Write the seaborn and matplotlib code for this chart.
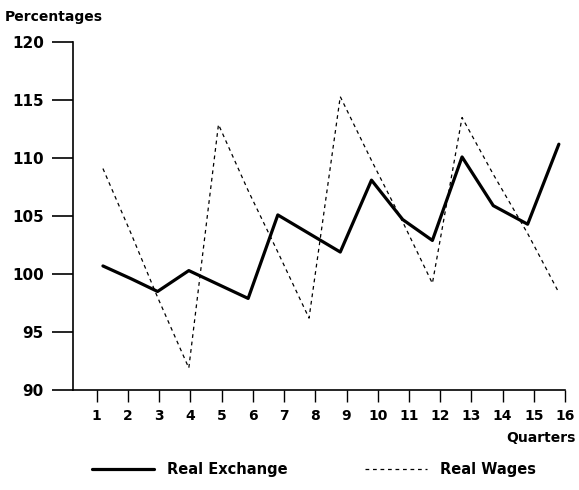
import pandas as pd
import matplotlib.pyplot as plt
import seaborn as sns

# quarter positions (points sit a little left of the ticks)
quarter_pos = [1.2, 2.1, 2.95, 3.95, 4.9, 5.85, 6.8, 7.8,
               8.8, 9.8, 10.8, 11.75, 12.7, 13.7, 14.8, 15.8]
real_exchange = [100.7, 99.6, 98.5, 100.3, 99.1, 97.9, 105.1, 103.5,
                 101.9, 108.1, 104.7, 102.9, 110.1, 105.9, 104.3, 111.2]
real_wages = [109.1, 103.5, 98.0, 91.9, 112.9, 107.2, 101.9, 96.2,
              115.3, 109.8, 104.5, 99.2, 113.5, 108.6, 103.5, 98.4]
quarter_ticks = list(range(1, 17))
pct_ticks = [90, 95, 100, 105, 110, 115, 120]

sns.set_style("ticks")
plt.rcParams['font.family'] = ['DejaVu Sans']
plt.rcParams['font.weight'] = 'bold'
plt.rcParams['text.color'] = 'black'
plt.rcParams['xtick.color'] = 'black'
plt.rcParams['ytick.color'] = 'black'
plt.rcParams['axes.edgecolor'] = 'black'

df = pd.DataFrame({"q": quarter_pos, "ex": real_exchange, "wg": real_wages})

fig = plt.figure(figsize=(5.79, 4.9), dpi=100)
ax = fig.add_axes([0.126, 0.204, 0.85, 0.71])

sns.lineplot(x="q", y="ex", data=df, ax=ax, color="black", linewidth=2.3,
             label="Real Exchange")
sns.lineplot(x="q", y="wg", data=df, ax=ax, color="black", linewidth=0.9,
             linestyle=(0, (3, 3)), label="Real Wages")

ax.set_xlim(0.24, 16)
ax.set_ylim(90, 120)
ax.set_xticks(quarter_ticks)
ax.set_yticks(pct_ticks)
ax.set_xlabel("")
ax.set_ylabel("")
for s in ["top", "right"]:
    ax.spines[s].set_visible(False)
ax.spines["left"].set_linewidth(1.2)
ax.spines["bottom"].set_linewidth(1.2)
ax.tick_params(axis="y", length=15, width=1.2, pad=6, labelsize=11)
ax.tick_params(axis="x", length=8.5, width=1.0, pad=5, labelsize=10)
for t in ax.get_xticklabels() + ax.get_yticklabels():
    t.set_fontweight("bold")

fig.text(0.008, 0.965, "Percentages", fontsize=10, fontweight="bold", va="center")
fig.text(0.995, 0.107, "Quarters", fontsize=10, fontweight="bold", ha="right", va="center")

ax.legend_.remove()
h, l = ax.get_legend_handles_labels()
fig.legend(h, l, loc="center", bbox_to_anchor=(0.542, 0.041), ncol=2, frameon=False,
           handlelength=4.3, columnspacing=5.3, handletextpad=0.85,
           prop={"weight": "bold", "size": 10.5})

plt.savefig("out.png", dpi=100)
